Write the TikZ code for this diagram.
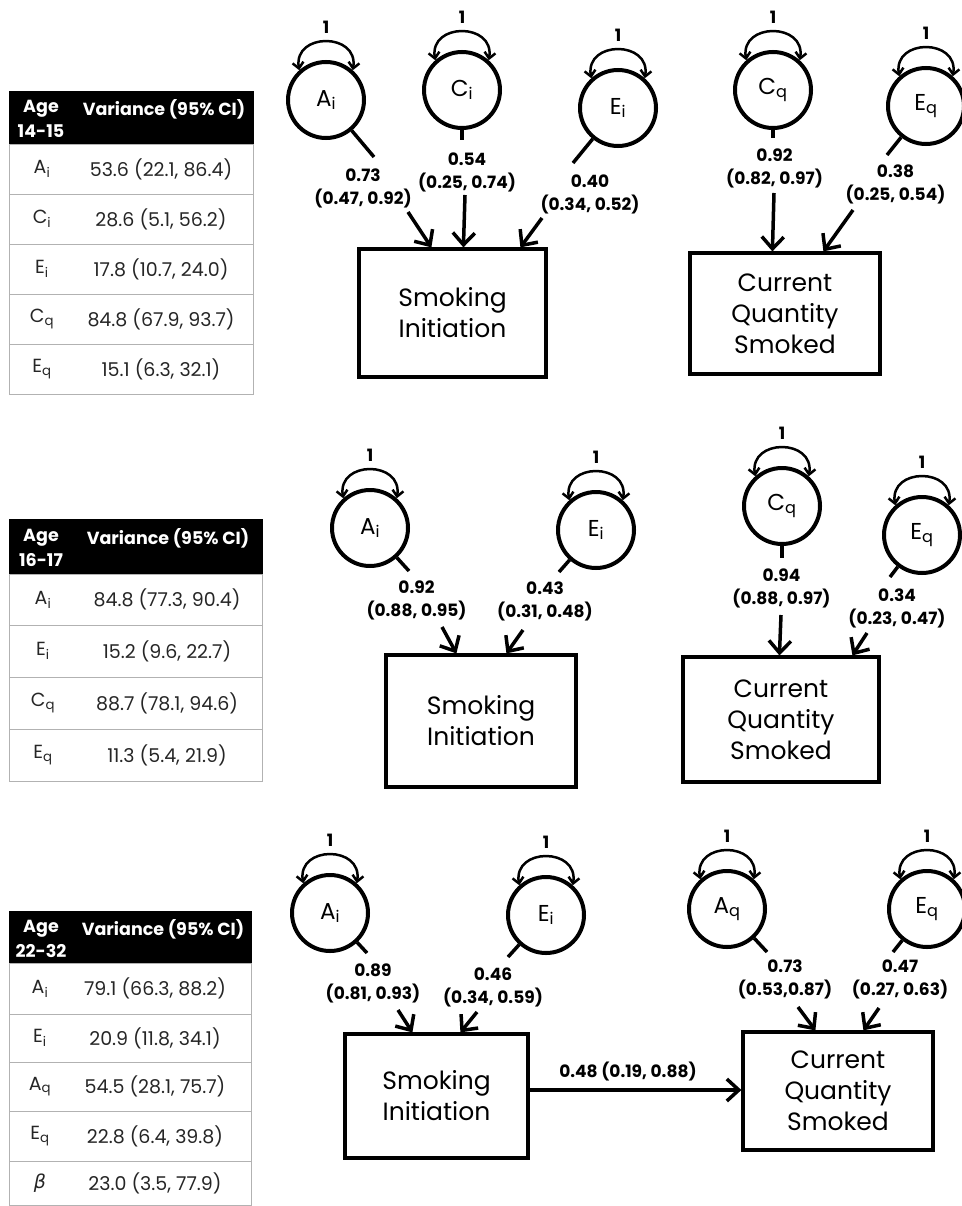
\documentclass[tikz,border=0pt]{standalone}
\usepackage{fontspec}
\setmainfont{Poppins}
\newfontfamily\gkfont{DejaVu Sans}
\usetikzlibrary{arrows.meta}
\newcommand\sbi[1]{\textsubscript{#1}}
\tikzset{
 lat/.style={circle, draw, line width=4pt, minimum size=76pt, inner sep=0pt, font=\fontsize{23}{23}\selectfont},
 obs/.style={rectangle, draw, line width=3.2pt, inner sep=0pt, align=center, font=\fontsize{25}{31}\selectfont},
 pth/.style={line width=3.5pt},
 parr/.style={line width=3.5pt, -{Straight Barb[length=12pt,width=22pt]}},
 vloop/.style={line width=2.5pt, {Straight Barb[length=6pt,width=11pt]}-{Straight Barb[length=6pt,width=11pt]}},
 coef/.style={font=\bfseries\fontsize{17}{23}\selectfont, inner sep=0pt, align=center},
 one/.style={font=\bfseries\fontsize{17}{17}\selectfont, inner sep=0pt},
 hdr/.style={fill=black, draw=black, anchor=north west, inner sep=0pt},
 rowc/.style={draw=gray!60, line width=1pt, anchor=north west, inner sep=0pt},
 hdt/.style={text=white, font=\bfseries\fontsize{17.5}{18}\selectfont, inner sep=0pt},
 tv/.style={font=\fontsize{19}{19}\selectfont, inner sep=0pt, text=black!85},
}
\newcommand\latv[4]{%
 \node[lat] (#1) at (#2,#3) {#4};
 \draw[vloop] (#1.132) .. controls +(-6,-38) and +(6,-38) .. (#1.48);
 \node[one] (#1one) at (#2,#3-73) {1};
}
\newcommand\trow[9]{%
 \node[rowc, minimum width=#4pt, minimum height=#5pt] (#1) at (#2,#3) {};
 \node[tv] (#1l) at (#6,#3+#5/2) {#8};
 \node[tv] (#1v) at (#7,#3+#5/2) {#9};
}
\begin{document}
\begin{tikzpicture}[x=1pt,y=-1pt]
\path[use as bounding box, fill=white] (0,0) rectangle (961,1206);

% ---------- Table 1 ----------
\node[hdr, minimum width=244pt, minimum height=53pt] (t1h) at (9,91) {};
\node[hdt] (t1a) at (41,109) {Age};
\node[hdt] (t1b) at (41,131) {14-15};
\node[hdt] (t1c) at (164,109) {Variance (95\% CI)};
\trow{t1r1}{9}{144}{244}{50}{42}{161}{A\sbi{i}}{53.6 (22.1, 86.4)}
\trow{t1r2}{9}{194}{244}{50}{42}{161}{C\sbi{i}}{28.6 (5.1, 56.2)}
\trow{t1r3}{9}{244}{244}{50}{42}{161}{E\sbi{i}}{17.8 (10.7, 24.0)}
\trow{t1r4}{9}{294}{244}{50}{42}{161}{C\sbi{q}}{84.8 (67.9, 93.7)}
\trow{t1r5}{9}{344}{244}{50}{42}{161}{E\sbi{q}}{15.1 (6.3, 32.1)}

% ---------- Table 2 ----------
\node[hdr, minimum width=253pt, minimum height=55pt] (t2h) at (9,519) {};
\node[hdt] (t2a) at (41,538) {Age};
\node[hdt] (t2b) at (41,560) {16-17};
\node[hdt] (t2c) at (168,538) {Variance (95\% CI)};
\trow{t2r1}{9}{574}{253}{51}{43}{167}{A\sbi{i}}{84.8 (77.3, 90.4)}
\trow{t2r2}{9}{625}{253}{52}{43}{167}{E\sbi{i}}{15.2 (9.6, 22.7)}
\trow{t2r3}{9}{677}{253}{52}{43}{167}{C\sbi{q}}{88.7 (78.1, 94.6)}
\trow{t2r4}{9}{729}{253}{52}{43}{167}{E\sbi{q}}{11.3 (5.4, 21.9)}

% ---------- Table 3 ----------
\node[hdr, minimum width=242pt, minimum height=52pt] (t3h) at (9,911) {};
\node[hdt] (t3a) at (41,929) {Age};
\node[hdt] (t3b) at (41,951) {22-32};
\node[hdt] (t3c) at (163,929) {Variance (95\% CI)};
\trow{t3r1}{9}{963}{242}{51}{40}{155}{A\sbi{i}}{79.1 (66.3, 88.2)}
\trow{t3r2}{9}{1014}{242}{48}{40}{155}{E\sbi{i}}{20.9 (11.8, 34.1)}
\trow{t3r3}{9}{1062}{242}{49}{40}{155}{A\sbi{q}}{54.5 (28.1, 75.7)}
\trow{t3r4}{9}{1111}{242}{50}{40}{155}{E\sbi{q}}{22.8 (6.4, 39.8)}
\trow{t3r5}{9}{1161}{242}{44}{40}{155}{{\gkfont\itshape β}}{23.0 (3.5, 77.9)}

% ---------- Panel 1 ----------
\latv{Ai1}{326}{100}{A\sbi{i}}
\latv{Ci1}{462}{90}{C\sbi{i}}
\latv{Ei1}{618}{108}{E\sbi{i}}
\latv{Cq1}{773}{90}{C\sbi{q}}
\latv{Eq1}{926}{106}{E\sbi{q}}
\node[obs, minimum width=187pt, minimum height=128pt] (SI1) at (452.5,313) {Smoking\\Initiation};
\node[obs, minimum width=190pt, minimum height=121pt] (CQ1) at (785,313.5) {Current\\Quantity\\Smoked};

\coordinate (s1a) at (374,157); \draw[pth] (Ai1) -- (s1a);
\node[coef] (c1a) at (363,188) {0.73\\(0.47, 0.92)};
\coordinate (b1a) at (408,212); \draw[parr] (b1a) -- ([xshift=74pt]SI1.north west);

\coordinate (s1c) at (462,140); \draw[pth] (Ci1) -- (s1c);
\node[coef] (c1c) at (467,172) {0.54\\(0.25, 0.74)};
\coordinate (b1c) at (465,195); \draw[parr] (b1c) -- ([xshift=106pt]SI1.north west);

\coordinate (s1e) at (573,163); \draw[pth] (Ei1) -- (s1e);
\node[coef] (c1e) at (590,194.5) {0.40\\(0.34, 0.52)};
\coordinate (b1e) at (542,218); \draw[parr] (b1e) -- ([xshift=163pt]SI1.north west);

\coordinate (s1q) at (773,138); \draw[pth] (Cq1) -- (s1q);
\node[coef] (c1q) at (774.5,168.5) {0.92\\(0.82, 0.97)};
\coordinate (b1q) at (774,193); \draw[parr] (b1q) -- ([xshift=84pt]CQ1.north west);

\coordinate (s1r) at (887,155); \draw[pth] (Eq1) -- (s1r);
\node[coef] (c1r) at (895.5,184.5) {0.38\\(0.25, 0.54)};
\coordinate (b1r) at (853,210); \draw[parr] (b1r) -- ([xshift=135pt]CQ1.north west);

% ---------- Panel 2 ----------
\latv{Ai2}{370}{528}{A\sbi{i}}
\latv{Ei2}{596}{530}{E\sbi{i}}
\latv{Cq2}{782}{506}{C\sbi{q}}
\latv{Eq2}{922}{535}{E\sbi{q}}
\node[obs, minimum width=190pt, minimum height=132pt] (SI2) at (481,721) {Smoking\\Initiation};
\node[obs, minimum width=196pt, minimum height=125pt] (CQ2) at (781,719.5) {Current\\Quantity\\Smoked};

\coordinate (s2a) at (409,571); \draw[pth] (Ai2) -- (s2a);
\node[coef] (c2a) at (416.5,600) {0.92\\(0.88, 0.95)};
\coordinate (b2a) at (442,627); \draw[parr] (b2a) -- ([xshift=72pt]SI2.north west);

\coordinate (s2e) at (559,572); \draw[pth] (Ei2) -- (s2e);
\node[coef] (c2e) at (545,601) {0.43\\(0.31, 0.48)};
\coordinate (b2e) at (523,630); \draw[parr] (b2e) -- ([xshift=122pt]SI2.north west);

\coordinate (s2q) at (782,558); \draw[pth] (Cq2) -- (s2q);
\node[coef] (c2q) at (781.5,588.5) {0.94\\(0.88, 0.97)};
\coordinate (b2q) at (781,615); \draw[parr] (b2q) -- ([xshift=98pt]CQ2.north west);

\coordinate (s2r) at (890,577); \draw[pth] (Eq2) -- (s2r);
\node[coef] (c2r) at (897,608.5) {0.34\\(0.23, 0.47)};
\coordinate (b2r) at (867,633); \draw[parr] (b2r) -- ([xshift=171pt]CQ2.north west);

% ---------- Panel 3 ----------
\latv{Ai3}{330}{913}{A\sbi{i}}
\latv{Ei3}{546}{915}{E\sbi{i}}
\latv{Aq3}{727}{909}{A\sbi{q}}
\latv{Eq3}{927}{909}{E\sbi{q}}
\node[obs, minimum width=183pt, minimum height=124pt] (SI3) at (436.5,1096) {Smoking\\Initiation};
\node[obs, minimum width=190pt, minimum height=118pt] (CQ3) at (838,1091) {Current\\Quantity\\Smoked};

\coordinate (s3a) at (367,953); \draw[pth] (Ai3) -- (s3a);
\node[coef] (c3a) at (373,983.5) {0.89\\(0.81, 0.93)};
\coordinate (b3a) at (398,1010); \draw[parr] (b3a) -- ([xshift=69pt]SI3.north west);

\coordinate (s3e) at (508,957); \draw[pth] (Ei3) -- (s3e);
\node[coef] (c3e) at (493,987) {0.46\\(0.34, 0.59)};
\coordinate (b3e) at (477,1012); \draw[parr] (b3e) -- ([xshift=117pt]SI3.north west);

\coordinate (s3q) at (767,952); \draw[pth] (Aq3) -- (s3q);
\node[coef] (c3q) at (785,979) {0.73\\(0.53,0.87)};
\coordinate (b3q) at (798,1007); \draw[parr] (b3q) -- ([xshift=74pt]CQ3.north west);

\coordinate (s3r) at (893,952); \draw[pth] (Eq3) -- (s3r);
\node[coef] (c3r) at (900,979) {0.47\\(0.27, 0.63)};
\coordinate (b3r) at (879,1008); \draw[parr] (b3r) -- ([xshift=122pt]CQ3.north west);

\draw[parr] ([yshift=6pt]SI3.east) -- ([yshift=6pt]SI3.east -| CQ3.west);
\node[coef] (beta) at (628,1072) {0.48 (0.19, 0.88)};
\end{tikzpicture}
\end{document}
